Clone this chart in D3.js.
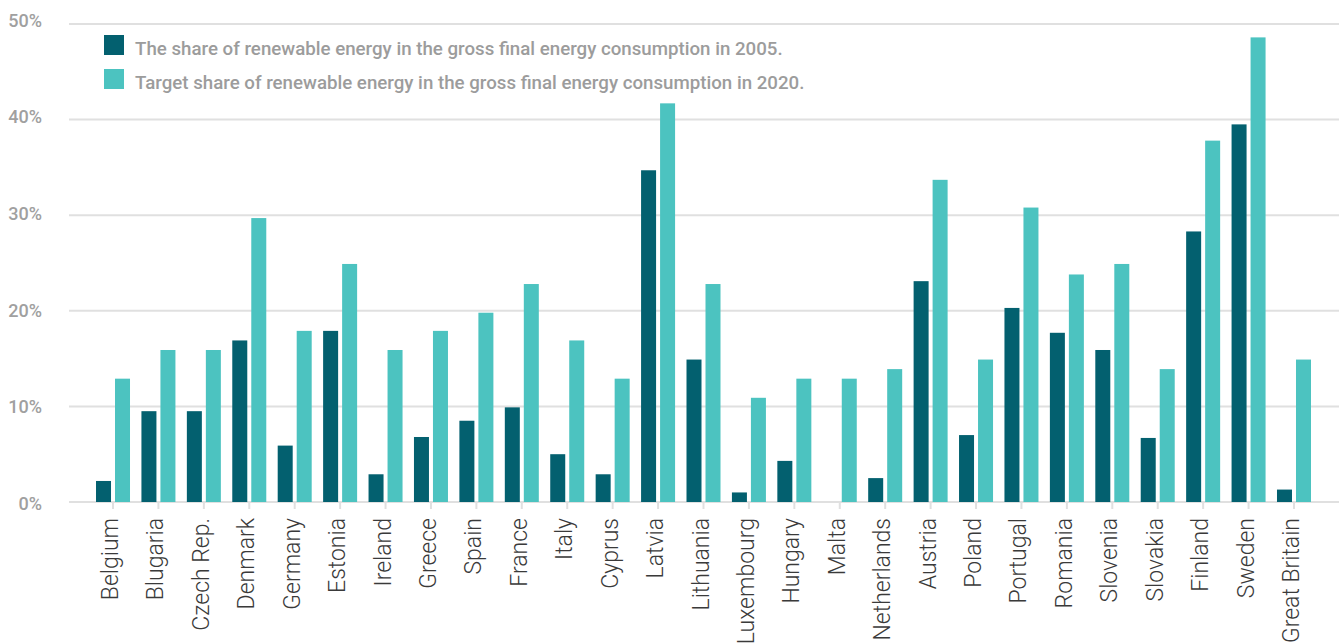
<!DOCTYPE html>
<html>
<head>
<meta charset="utf-8">
<script src="https://cdn.jsdelivr.net/npm/d3@7"></script>
<style>
  html, body { margin: 0; padding: 0; background: #fff; }
  #chart { width: 1340px; height: 644px; overflow: hidden; }
</style>
</head>
<body>
<div id="chart"></div>
<script>
// chart size
const width = 1340;
const height = 644;

// data
const countries = ["Belgium", "Blugaria", "Czech Rep.", "Denmark", "Germany", "Estonia", "Ireland",
  "Greece", "Spain", "France", "Italy", "Cyprus", "Latvia", "Lithuania", "Luxembourg", "Hungary",
  "Malta", "Netherlands", "Austria", "Poland", "Portugal", "Romania", "Slovenia", "Slovakia",
  "Finland", "Sweden", "Great Britain"];
const share2005 = [2.2, 9.5, 9.5, 16.9, 5.9, 17.9, 2.9, 6.8, 8.5, 9.9, 5.0, 2.9, 34.7, 14.9,
  1.0, 4.3, 0, 2.5, 23.1, 7.0, 20.3, 17.7, 15.9, 6.7, 28.3, 39.5, 1.3];
const target2020 = [12.9, 15.9, 15.9, 29.7, 17.9, 24.9, 15.9, 17.9, 19.8, 22.8, 16.9, 12.9, 41.7, 22.8,
  10.9, 12.9, 12.9, 13.9, 33.7, 14.9, 30.8, 23.8, 24.9, 13.9, 37.8, 48.6, 14.9];
const yTicks = [0, 10, 20, 30, 40, 50];
const seriesNames = [
  "The share of renewable energy in the gross final energy consumption in 2005.",
  "Target share of renewable energy in the gross final energy consumption in 2020."
];
const colors = ["#03606f", "#4cc3c0"];

const svg = d3.select("#chart").append("svg")
    .attr("width", width)
    .attr("height", height)
    .style("display", "block")
    .style("font-family", "Roboto, 'Noto Sans', sans-serif");

// scales
const x = d3.scaleBand()
    .domain(countries)
    .range([90.3, 1316.7])
    .padding(0);

const y = d3.scaleLinear()
    .domain([0, 50])
    .range([502, 24]);

// y labels sit slightly off the grid in the original
const yLabel = y.copy().range([510, 26.7]);

// grid lines
svg.append("g")
  .selectAll("line")
  .data(yTicks)
  .enter()
  .append("line")
    .attr("x1", 69)
    .attr("x2", 1339)
    .attr("y1", d => y(d))
    .attr("y2", d => y(d))
    .attr("stroke", "#e0e0e0")
    .attr("stroke-width", 2);

// y axis labels
svg.append("g")
  .selectAll("text")
  .data(yTicks)
  .enter()
  .append("text")
    .attr("x", 42)
    .attr("y", d => yLabel(d))
    .attr("text-anchor", "end")
    .attr("fill", "#a0a0a0")
    .style("font-size", "18px")
    .style("font-weight", 500)
    .text(d => d + "%");

// x ticks
svg.append("g")
  .selectAll("line")
  .data(countries)
  .enter()
  .append("line")
    .attr("x1", d => x(d) + x.bandwidth() / 2)
    .attr("x2", d => x(d) + x.bandwidth() / 2)
    .attr("y1", 502)
    .attr("y2", 509)
    .attr("stroke", "#e0e0e0")
    .attr("stroke-width", 2);

// bars
const barW = 15;
const groups = svg.append("g")
  .selectAll("g")
  .data(countries)
  .enter()
  .append("g")
    .attr("transform", d => `translate(${x(d) + x.bandwidth() / 2},0)`);

groups.append("rect")
    .attr("x", -17)
    .attr("width", barW)
    .attr("y", (d, i) => y(share2005[i]))
    .attr("height", (d, i) => y(0) - y(share2005[i]))
    .attr("fill", colors[0]);

groups.append("rect")
    .attr("x", 2)
    .attr("width", barW)
    .attr("y", (d, i) => y(target2020[i]))
    .attr("height", (d, i) => y(0) - y(target2020[i]))
    .attr("fill", colors[1]);

// country labels, rotated
groups.append("text")
    .attr("transform", "translate(5,518) rotate(-90)")
    .attr("text-anchor", "end")
    .attr("fill", "#3a3a3a")
    .style("font-size", "23px")
    .style("font-weight", 300)
    .text(d => d);

// legend
const legend = svg.append("g")
  .selectAll("g")
  .data(seriesNames)
  .enter()
  .append("g")
    .attr("transform", (d, i) => `translate(104,${35 + i * 34})`);

legend.append("rect")
    .attr("width", 20)
    .attr("height", 20)
    .attr("fill", (d, i) => colors[i]);

legend.append("text")
    .attr("x", 31)
    .attr("y", 20)
    .attr("fill", "#9c9c9c")
    .style("font-size", "18.7px")
    .style("font-weight", 500)
    .text(d => d);
</script>
</body>
</html>
